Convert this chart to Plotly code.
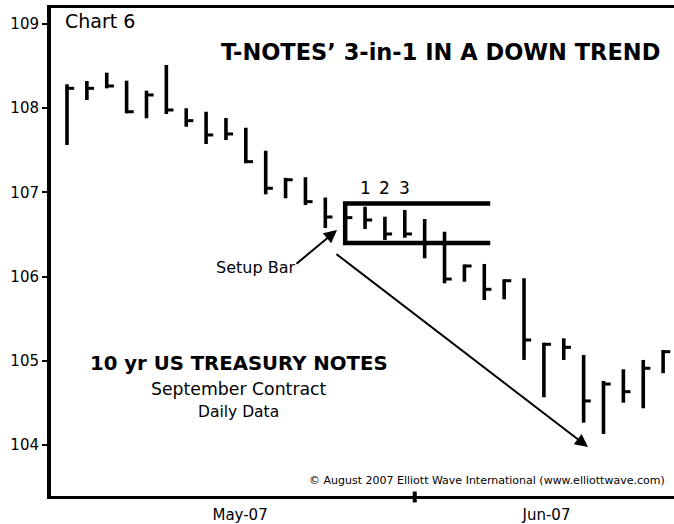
import plotly.graph_objects as go

# ---- data (T-Notes Sept contract, daily bars) ----
bar_index = list(range(31))
highs = [108.284, 108.323, 108.422, 108.327, 108.208, 108.513, 107.999, 107.958, 107.884, 107.768,
         107.495, 107.173, 107.180, 106.939, 106.860, 106.830, 106.711, 106.791, 106.684, 106.533,
         106.144, 106.150, 105.968, 105.980, 105.215, 105.267, 105.069, 104.760, 104.899, 105.010,
         105.128]
lows = [107.563, 108.097, 108.236, 107.939, 107.880, 107.931, 107.780, 107.575, 107.622, 107.346,
        106.977, 106.930, 106.850, 106.577, 106.420, 106.565, 106.435, 106.462, 106.217, 105.920,
        105.939, 105.722, 105.730, 105.010, 104.567, 105.010, 104.265, 104.131, 104.502, 104.436,
        104.852]
closes = [108.236, 108.236, 108.264, 107.958, 108.157, 107.979, 107.852, 107.682, 107.694, 107.365,
          107.049, 107.150, 106.890, 106.708, 106.700, 106.672, 106.506, 106.506, 106.400, 105.971,
          106.126, 105.849, 105.951, 105.247, 105.196, 105.160, 104.523, 104.724, 104.633, 104.911,
          105.108]

y_ticks = [104, 105, 106, 107, 108, 109]
month_labels = ["May-07", "Jun-07"]
month_label_pos = [8.71, 24.13]
month_boundary = 17.5

box_start, box_end = 14.0, 21.3
box_top, box_bottom = 106.868, 106.400
count_labels = ["1", "2", "3"]
count_bars = [15, 16, 17]

FONT = "DejaVu Sans"

# ---- pixel helpers for text placement ----
L, R, T, B = 51, 674, 8, 496
def px(x, y):
    return dict(x=(x - L) / (R - L), y=(B - y) / (B - T), xref="paper", yref="paper")

fig = go.Figure()

# vertical high-low lines
vx, vy = [], []
for i, h, l in zip(bar_index, highs, lows):
    vx += [i, i, None]
    vy += [l, h, None]
fig.add_trace(go.Scatter(x=vx, y=vy, mode="lines", line=dict(color="black", width=3.6),
                         hoverinfo="skip"))

# close ticks (right side)
cx, cy = [], []
for i, c in zip(bar_index, closes):
    cx += [i, i + 0.36, None]
    cy += [c, c, None]
fig.add_trace(go.Scatter(x=cx, y=cy, mode="lines", line=dict(color="black", width=3),
                         hoverinfo="skip"))

# 3-in-1 box
fig.add_trace(go.Scatter(x=[box_end, box_start, box_start, box_end],
                         y=[box_top, box_top, box_bottom, box_bottom],
                         mode="lines", line=dict(color="black", width=4.5),
                         hoverinfo="skip"))

ann = []
# count labels 1 2 3
for lab, b in zip(count_labels, count_bars):
    ann.append(dict(x=b, y=box_top, xref="x", yref="y", text=lab, showarrow=False,
                    yanchor="bottom", yshift=4, font=dict(family=FONT, size=17, color="black")))

# arrows
ann.append(dict(x=13.588, y=106.553, ax=11.475, ay=106.138, xref="x", yref="y",
                axref="x", ayref="y", text="", showarrow=True, arrowhead=2,
                arrowsize=1.3, arrowwidth=2, arrowcolor="black"))
ann.append(dict(x=26.22, y=103.976, ax=13.488, ay=106.280, xref="x", yref="y",
                axref="x", ayref="y", text="", showarrow=True, arrowhead=2,
                arrowsize=1.3, arrowwidth=2, arrowcolor="black"))

def text(t, x, y, size, bold=False, xanchor="center"):
    d = px(x, y)
    d.update(text=t, showarrow=False, xanchor=xanchor, yanchor="middle",
             font=dict(family=FONT, size=size, color="black",
                       weight="bold" if bold else "normal"))
    ann.append(d)

text("Chart 6", 63, 21, 19, xanchor="left")
text("T-NOTES\u2019 3-in-1 IN A DOWN TREND", 440, 52, 22.5, bold=True)
text("Setup Bar", 255, 267, 16)
text("10 yr US TREASURY NOTES", 238.5, 363, 19.7, bold=True)
text("September Contract", 238.5, 389, 17.3)
text("Daily Data", 239, 412, 15.5)
text("\u00a9 August 2007 Elliott Wave International (www.elliottwave.com)", 307, 480, 11,
     xanchor="left")

fig.update_layout(
    width=674, height=524,
    margin=dict(l=L, r=674 - R, t=T, b=524 - B, autoexpand=False),
    paper_bgcolor="white", plot_bgcolor="white",
    showlegend=False,
    annotations=ann,
    shapes=[dict(type="line", xref="x", yref="paper", x0=month_boundary, x1=month_boundary,
                 y0=-0.0133, y1=0.0092, line=dict(color="black", width=4))],
    xaxis=dict(range=[-0.805, 30.548], showgrid=False, zeroline=False, automargin=False,
               showline=True, linecolor="black", linewidth=3, mirror=True,
               tickvals=month_label_pos, ticktext=month_labels,
               ticks="outside", ticklen=3, tickcolor="rgba(0,0,0,0)",
               tickfont=dict(family=FONT, size=15, color="black")),
    yaxis=dict(range=[103.394, 109.190], showgrid=False, zeroline=False, automargin=False,
               showline=True, linecolor="black", linewidth=4, mirror=False,
               tickvals=y_ticks, ticktext=[str(v) for v in y_ticks],
               ticks="outside", ticklen=5, tickwidth=2, tickcolor="black",
               tickfont=dict(family=FONT, size=15, color="black")),
)

fig.write_html("out.html", config={"displayModeBar": False},
               post_script="document.body.style.margin='0';")
